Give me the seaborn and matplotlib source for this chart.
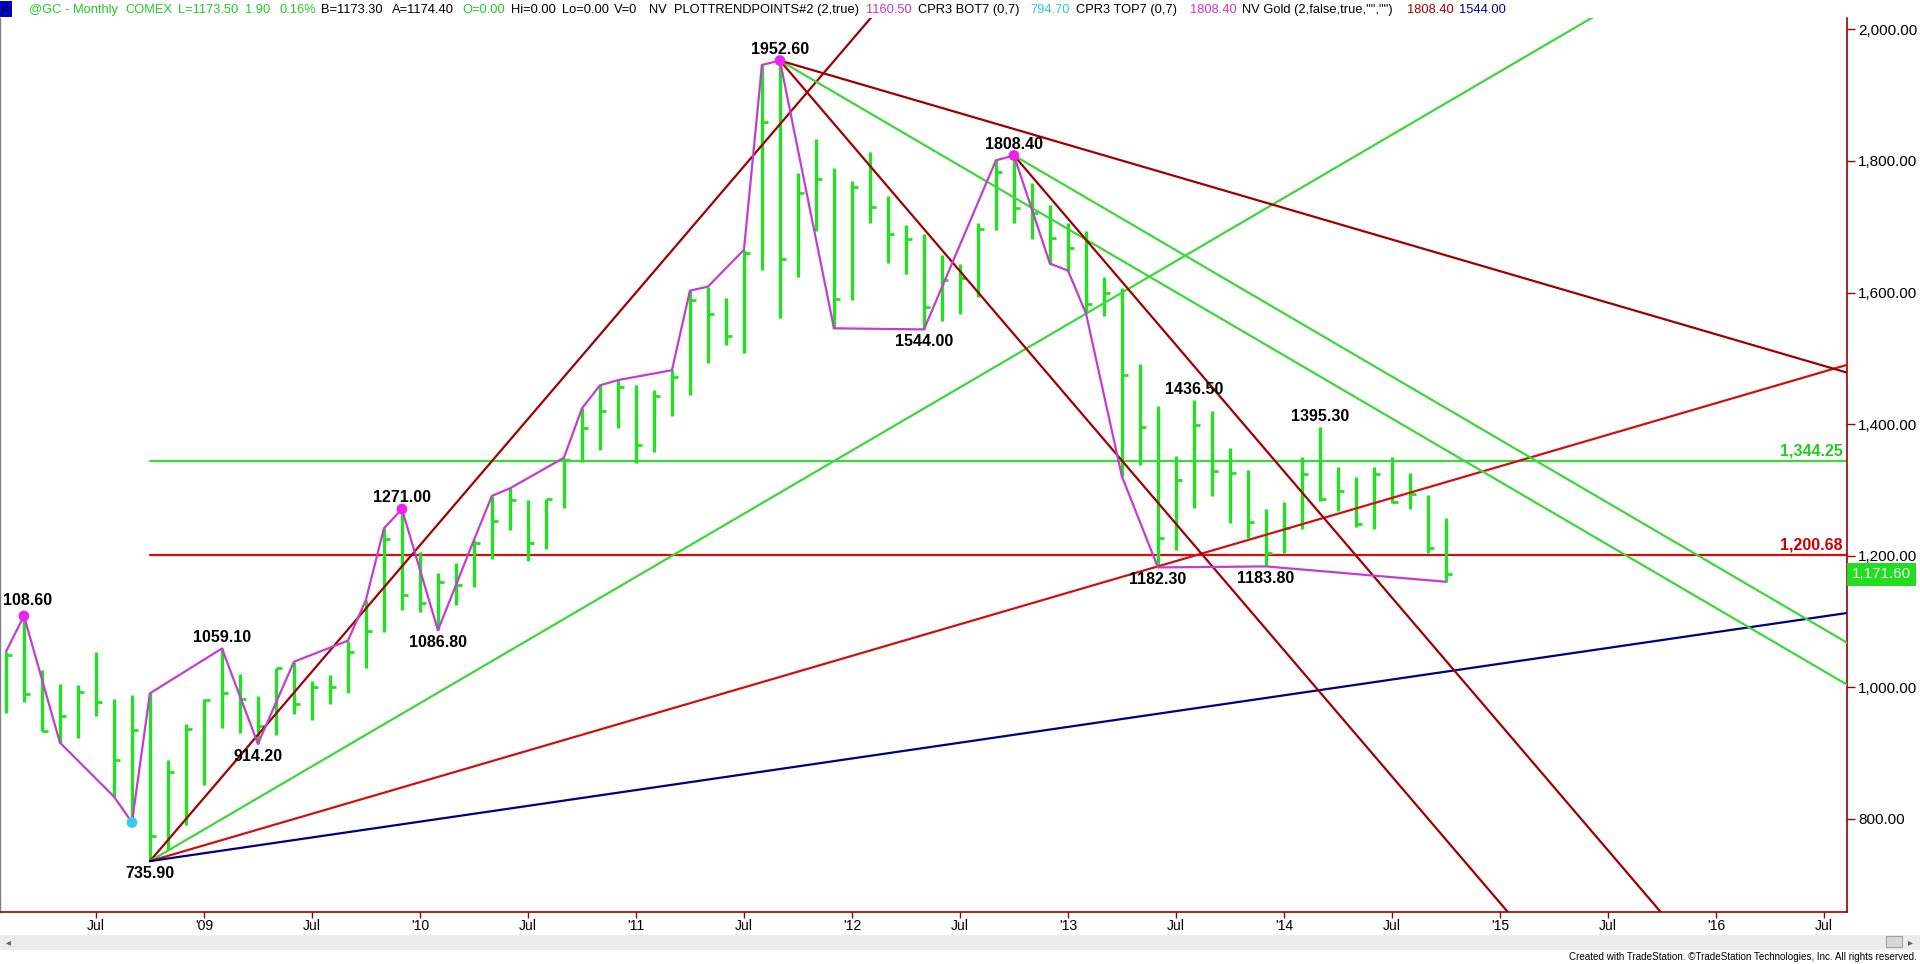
import numpy as np
import pandas as pd
import matplotlib
matplotlib.use('Agg')
import matplotlib.pyplot as plt
import matplotlib.transforms as mtransforms
from matplotlib import font_manager
from matplotlib.patches import Rectangle
import seaborn as sns

# Monthly gold bars (COMEX @GC), month index 0 = Jan 2009, first bar Feb 2008
months = np.arange(-11, 70)
highs = [1054, 1108.6, 1026, 1005, 1004, 1054, 982, 988, 991, 890, 945,                       # 2008
         982, 1059.1, 1020, 987, 1029, 1039, 1009, 1019, 1071, 1133, 1241.7, 1271,            # 2009
         1206, 1174, 1188.5, 1224, 1291, 1302.5, 1285, 1287, 1349, 1424, 1459, 1467,          # 2010
         1460, 1452.5, 1482, 1603, 1609, 1591, 1665, 1946, 1952.6, 1782, 1833, 1790,          # 2011
         1770, 1813, 1747, 1703, 1689, 1657, 1643.5, 1706, 1801, 1808.4, 1766, 1733,          # 2012
         1706.5, 1693, 1623, 1606.5, 1491, 1427.7, 1351.7, 1436.5, 1419.5, 1364.3, 1330, 1270.6,  # 2013
         1282.3, 1349.7, 1395.3, 1334.5, 1320.3, 1334.5, 1349.7, 1325.4, 1292.4, 1257]        # 2014
lows = [961, 977, 933, 916, 923, 957, 834, 794.7, 735.9, 753, 791,
        852, 939, 931, 914.2, 928, 959, 950, 975, 991, 1030, 1084.7, 1117.6,
        1115, 1086.8, 1125, 1153, 1194.6, 1239, 1192, 1211, 1272, 1343, 1361, 1394,
        1340.5, 1357, 1412, 1444, 1492.5, 1520, 1508, 1634, 1561, 1623, 1694, 1545.7,
        1589, 1705, 1644.5, 1628, 1544, 1557, 1567.5, 1594, 1695, 1706.5, 1681, 1644,
        1633.5, 1568.5, 1564.4, 1320.5, 1338, 1182.3, 1208.8, 1272, 1291.5, 1250.4, 1226.5, 1183.8,
        1203.8, 1240.3, 1283.8, 1268.6, 1244.3, 1240.3, 1280.8, 1270.6, 1204.8, 1160.5]
closes = [1049, 990, 933, 957, 993, 978, 890, 935, 774, 872, 936,
          981, 991, 983, 942, 1029, 975, 1001, 1000, 1054, 1086, 1225, 1140.4,
          1128, 1160, 1156, 1220, 1253, 1285, 1220, 1286, 1346, 1394, 1420, 1456,
          1368, 1443, 1471, 1589, 1567.5, 1534, 1660, 1859, 1651, 1752, 1772, 1590,
          1761, 1730, 1689, 1681.5, 1577.6, 1619, 1622, 1696, 1783, 1729, 1721, 1683,
          1668, 1583, 1600, 1474.8, 1395, 1226.5, 1315.6, 1398.5, 1329, 1325.3, 1252, 1204.5,
          1242, 1324.4, 1285.8, 1298.5, 1248.4, 1324.4, 1282.3, 1294, 1211.4, 1171.6]

# swing (zigzag) line
zz_month = [-11, -10, -8, -5, -4, -3, 1, 3, 5, 8, 9, 10, 11, 13, 15, 16, 17, 20, 21, 22, 23,
            26, 27, 28, 30, 31, 32, 35, 40, 44, 45, 47, 48, 49, 51, 53, 59, 69]
zz_price = [1054, 1108.6, 916, 834, 794.7, 991, 1059.1, 914.2, 1039, 1071, 1133, 1241.7, 1271,
            1086.8, 1224, 1291, 1302.5, 1349, 1424, 1459, 1467, 1482, 1603, 1609, 1665, 1946,
            1952.6, 1545.7, 1544, 1801, 1808.4, 1644, 1633.5, 1568.5, 1320.5, 1182.3, 1183.8, 1160.5]

# pivot dots
top_month = [-10, 11, 32, 45]
top_price = [1108.6, 1271, 1952.6, 1808.4]
bot_month = [-4]
bot_price = [794.7]

# pivot labels
label_text = ['1059.10', '914.20', '735.90', '1271.00', '1086.80', '1952.60', '1544.00',
              '1808.40', '1436.50', '1182.30', '1183.80', '1395.30']
label_month = [1, 3, -3, 11, 13, 32, 40, 45, 55, 53, 59, 62]
label_price = [1059.1, 914.2, 735.9, 1271, 1086.8, 1952.6, 1544, 1808.4, 1436.5, 1182.3, 1183.8, 1395.3]
label_is_high = [True, False, False, True, False, True, False, True, True, False, False, True]
edge_label = '108.60'
edge_price = 1108.6

# Gann style fan lines: origin pivot and slope ($ per month)
fan_month = [-3, -3, -3, -3, 32, 32, 32, 45, 45]
fan_price = [735.9, 735.9, 735.9, 735.9, 1952.6, 1952.6, 1952.6, 1808.4, 1808.4]
fan_slope = [32, 16, 8, 4, -32, -16, -8, -32, -16]

# horizontal levels
level_price = [1344.25, 1200.68]
level_start = -3

y_ticks = [800, 1000, 1200, 1400, 1600, 1800, 2000]
x_ticks = list(range(-6, 91, 6))
x_labels = ['Jul', "'09", 'Jul', "'10", 'Jul', "'11", 'Jul', "'12", 'Jul', "'13", 'Jul',
            "'14", 'Jul', "'15", 'Jul', "'16", 'Jul']
last_price = 1171.60

BAR_GREEN = '#22E022'
LINE_GREEN = '#3AD83A'
DARK_RED = '#A00000'
RED = '#D01010'
NAVY = '#000080'
MAGENTA = '#C43CD0'
AXIS_RED = '#990000'

sns.set_theme(style='white')
names = {f.name for f in font_manager.fontManager.ttflist}
narrow = 'Liberation Sans Narrow' if 'Liberation Sans Narrow' in names else 'Liberation Sans'
nscale = 1.0 if narrow == 'Liberation Sans Narrow' else 0.84
plt.rcParams['font.family'] = ['Liberation Sans', 'DejaVu Sans']

W, H = 1920, 964
fig = plt.figure(figsize=(19.2, 9.64), dpi=100, facecolor='white')


def fx(px):
    return px / W


def fy(py):
    return 1 - py / H


# scroll bar strip (behind everything)
fig.patches.append(Rectangle((0, fy(950)), 1, 15 / H, transform=fig.transFigure,
                             fc='#ECECEC', ec='none', zorder=-5))

ax = fig.add_axes([0, 52 / H, 1847 / W, 894 / H])
ax.set_facecolor('white')

# horizontal levels
for lvl, col in zip(level_price, [LINE_GREEN, RED]):
    sns.lineplot(x=[level_start, 100], y=[lvl, lvl], color=col, lw=1.6, ax=ax, zorder=2)

# bars (high-low-close)
bars = pd.DataFrame({'month': months, 'high': highs, 'low': lows, 'close': closes})
ax.vlines(bars['month'], bars['low'], bars['high'], color=BAR_GREEN, lw=2.4, zorder=3)
ax.hlines(bars['close'], bars['month'], bars['month'] + 0.36, color=BAR_GREEN, lw=2.0, zorder=3)

# fan lines
fan_colors = [DARK_RED, LINE_GREEN, RED, NAVY, DARK_RED, LINE_GREEN, DARK_RED, DARK_RED, LINE_GREEN]
for m0, p0, s, col in zip(fan_month, fan_price, fan_slope, fan_colors):
    xs = np.array([m0, 100.0])
    ys = p0 + s * (xs - m0)
    sns.lineplot(x=xs, y=ys, color=col, lw=1.6, ax=ax, zorder=4, sort=False)

# zigzag
sns.lineplot(x=zz_month, y=zz_price, color=MAGENTA, lw=1.6, ax=ax, zorder=5,
             sort=False, estimator=None)
sns.scatterplot(x=top_month, y=top_price, color='#F020F0', s=60, edgecolor='none', ax=ax, zorder=6)
sns.scatterplot(x=bot_month, y=bot_price, color='#33CCEE', s=60, edgecolor='none', ax=ax, zorder=6)

# pivot labels
for t, m, p, hi in zip(label_text, label_month, label_price, label_is_high):
    ax.annotate(t, (m, p), xytext=(0, 8 if hi else -9), textcoords='offset points',
                ha='center', va='center', fontsize=11.5, fontweight='bold', color='black', zorder=7)
edge_tr = mtransforms.blended_transform_factory(ax.transAxes, ax.transData)
ax.annotate(edge_label, (0, edge_price), xycoords=edge_tr, xytext=(2, 11), textcoords='offset points',
            ha='left', va='center', fontsize=11.5, fontweight='bold', color='black', zorder=7)

# level labels
for lvl, col in zip(level_price, ['#22CC22', '#CC0000']):
    ax.annotate(f'{lvl:,.2f}', (1, lvl), xycoords=edge_tr, xytext=(-3, 2), textcoords='offset points',
                ha='right', va='bottom', fontsize=11.5, fontweight='bold', color=col, zorder=7)

ax.set_xlim(-11.33, 91.28)
ax.set_ylim(658.6, 2017.3)
ax.set_xlabel('')
ax.set_ylabel('')

ax.yaxis.tick_right()
ax.set_yticks(y_ticks)
ax.set_yticklabels([f'{v:,.2f}' for v in y_ticks])
ax.tick_params(axis='y', which='both', right=True, left=False, direction='out', length=6,
               width=1, color=AXIS_RED, labelsize=11, pad=2, labelcolor='black')
ax.set_xticks(x_ticks)
ax.set_xticklabels(x_labels, fontfamily=narrow, fontsize=12 * nscale)
ax.tick_params(axis='x', bottom=True, direction='out', length=4, width=1, color=AXIS_RED,
               pad=1, labelcolor='black')

ax.spines['top'].set_visible(False)
ax.spines['right'].set_color(AXIS_RED)
ax.spines['right'].set_linewidth(1.2)
ax.spines['bottom'].set_color(AXIS_RED)
ax.spines['bottom'].set_linewidth(1.2)
ax.spines['left'].set_color('#808080')
ax.spines['left'].set_linewidth(1.0)

# last price box
ax.text(1 + 5 / 1847, last_price, f'{last_price:,.2f}', transform=edge_tr, ha='left', va='center',
        color='#F0FFF0', fontsize=11, clip_on=False, zorder=8,
        bbox=dict(boxstyle='square,pad=0.3', fc='#22DD22', ec='none'))

# header
fig.patches.append(Rectangle((0, fy(17)), fx(12), 16 / H, transform=fig.transFigure,
                             fc='#0000CC', ec='none'))
fig.text(fx(6), fy(10), 'A', ha='center', va='center', color='#000044', fontsize=10, fontfamily=narrow)
header = [('@GC - Monthly', 29, '#22CC22'), ('COMEX', 125, '#22CC22'), ('L=1173.50', 178, '#22CC22'),
          ('1.90', 245, '#22CC22'), ('0.16%', 279, '#22CC22'), ('B=1173.30', 321, 'black'),
          ('A=1174.40', 392, 'black'), ('O=0.00', 462, '#22CC22'), ('Hi=0.00', 511, 'black'),
          ('Lo=0.00', 562, 'black'), ('V=0', 614, 'black'), ('NV', 649, 'black'),
          ('PLOTTRENDPOINTS#2 (2,true)', 674, 'black'), ('1160.50', 866, '#CC33CC'),
          ('CPR3 BOT7 (0,7)', 918, 'black'), ('794.70', 1030, '#33CCCC'),
          ('CPR3 TOP7 (0,7)', 1076, 'black'), ('1808.40', 1190, '#CC33CC'),
          ('NV Gold (2,false,true,"","")', 1242, 'black'), ('1808.40', 1407, '#AA0000'),
          ('1544.00', 1459, '#000099')]
for txt, px, col in header:
    fig.text(fx(px), fy(10), txt, ha='left', va='center', color=col,
             fontsize=11 * nscale, fontfamily=narrow)

# scroll bar controls and credit line
fig.patches.append(Rectangle((fx(1886), fy(947)), fx(16), 11 / H, transform=fig.transFigure,
                             fc='#D8D8D8', ec='#A0A0A0', lw=0.8))
fig.text(fx(1910), fy(942), '\u25b8', ha='center', va='center', fontsize=7, color='#606060',
         fontfamily='DejaVu Sans')
fig.text(fx(8), fy(942), '\u25c2', ha='center', va='center', fontsize=7, color='#606060',
         fontfamily='DejaVu Sans')
fig.text(fx(1917), fy(957), 'Created with TradeStation. \u00a9TradeStation Technologies, Inc. All rights reserved.',
         ha='right', va='center', fontsize=8.5 * nscale, fontfamily=narrow, color='black')

fig.savefig('out.png', dpi=100, facecolor='white')
